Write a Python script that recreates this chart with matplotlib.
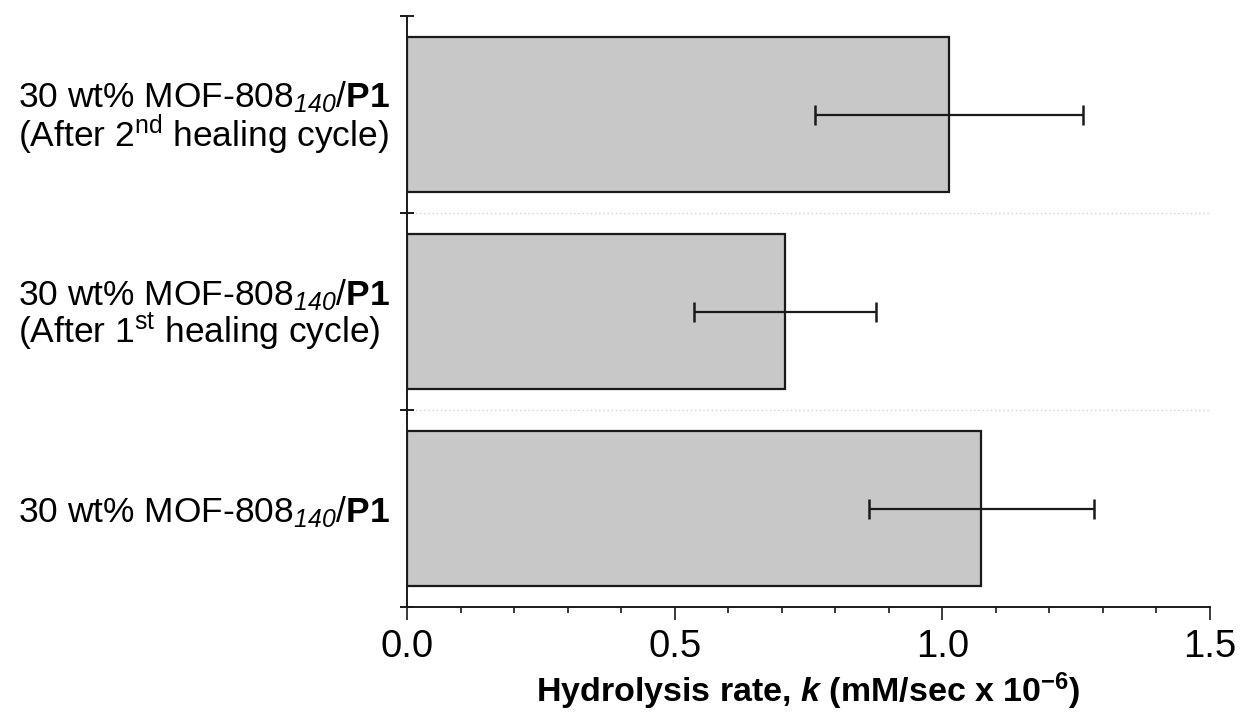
import matplotlib
matplotlib.use("Agg")
import matplotlib.pyplot as plt

plt.rcParams['font.family'] = ['Liberation Sans', 'DejaVu Sans']
plt.rcParams['mathtext.fontset'] = 'custom'
plt.rcParams['mathtext.rm'] = 'Liberation Sans'
plt.rcParams['mathtext.it'] = 'Liberation Sans:italic'
plt.rcParams['mathtext.sf'] = 'Liberation Sans:italic'
plt.rcParams['mathtext.bf'] = 'Liberation Sans:bold'
plt.rcParams['mathtext.bfit'] = 'Liberation Sans:italic:bold'

categories = [
    "30 wt% MOF-808$_{\\mathsf{140}}$/$\\mathbf{P1}$",
    "30 wt% MOF-808$_{\\mathsf{140}}$/$\\mathbf{P1}$\n(After 1$^{\\mathrm{st}}$ healing cycle)",
    "30 wt% MOF-808$_{\\mathsf{140}}$/$\\mathbf{P1}$\n(After 2$^{\\mathrm{nd}}$ healing cycle)",
]
rates = [1.073, 0.706, 1.012]
errors = [0.21, 0.17, 0.25]
x_major = [0.0, 0.5, 1.0, 1.5]
x_labels = ["0.0", "0.5", "1.0", "1.5"]

fig = plt.figure(figsize=(12.44, 7.15), dpi=100)
ax = fig.add_axes([407/1244, 1-607/715, (1210-407)/1244, (607-16)/715])

ypos = list(range(len(categories)))
ax.barh(ypos, rates, height=0.79, color='#c8c8c8', edgecolor='#1a1a1a', linewidth=1.6, zorder=2)
ax.errorbar(rates, ypos, xerr=errors, fmt='none', ecolor='#1a1a1a', elinewidth=1.6,
            capsize=7, capthick=1.8, zorder=3)

for b in [0.5, 1.5]:
    ax.axhline(b, color='#d4d4d4', linestyle=(0, (1, 2)), linewidth=1.0, zorder=1)

ax.set_xlim(0, 1.5)
ax.set_ylim(-0.5, 2.5)
ax.set_xticks(x_major, x_labels)
ax.set_xticks([i / 10 for i in range(16)], minor=True)
ax.tick_params(axis='x', which='major', direction='out', length=9, width=1.2, labelsize=27.5, pad=7, color='#1a1a1a')
ax.tick_params(axis='x', which='minor', direction='out', length=4.5, width=1.2, color='#1a1a1a')

ax.set_yticks([-0.5, 0.5, 1.5, 2.5])
ax.set_yticklabels([])
ax.set_yticks(ypos, categories, minor=True)
ax.tick_params(axis='y', which='major', direction='inout', length=10, width=1.4, color='#1a1a1a')
ax.tick_params(axis='y', which='minor', length=0, labelsize=25.5, pad=12)
for lbl in ax.get_yticklabels(minor=True):
    lbl.set_horizontalalignment('right')
    lbl.set_multialignment('left')
    lbl.set_linespacing(0.92)

for s in ['top', 'right']:
    ax.spines[s].set_visible(False)
for s in ['left', 'bottom']:
    ax.spines[s].set_linewidth(1.4)
    ax.spines[s].set_color('#1a1a1a')

ax.set_xlabel("Hydrolysis rate, $\\mathbfit{k}$ (mM/sec x 10$^{\\mathbf{-6}}$)",
              fontsize=24.5, fontweight='bold')
ax.xaxis.set_label_coords(0.5, -0.108)

fig.savefig("out.png", dpi=100)
